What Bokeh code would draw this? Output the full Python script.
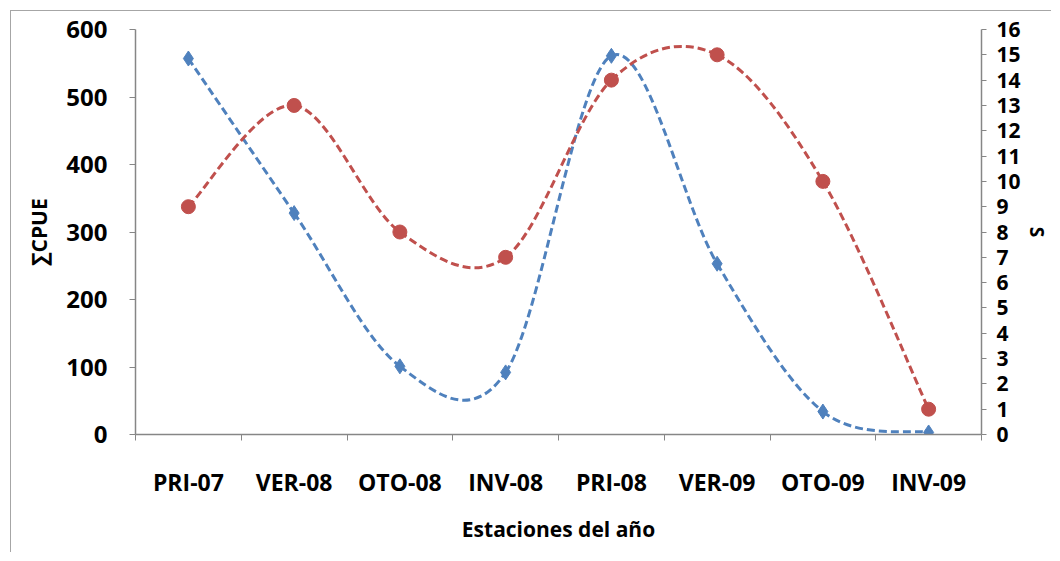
import numpy as np
from bokeh.plotting import figure
from bokeh.models import (Range1d, LinearAxis, FixedTicker, ColumnDataSource)
from bokeh.embed import file_html
from bokeh.resources import INLINE

categories = ["PRI-07", "VER-08", "OTO-08", "INV-08", "PRI-08", "VER-09", "OTO-09", "INV-09"]
cpue = [557, 328, 101, 92, 561, 253, 34, 3]
riqueza = [9, 13, 8, 7, 14, 15, 10, 1]

BLUE = "#4F81BD"
RED = "#C0504D"
FONT = "Open Sans"
AX = "#868686"

OFF = 11  # chart area starts 10px in, with a 1px border
W, H = 1052 - OFF, 553 - OFF
BL, BT = 135 - OFF, 29 - OFF
BR = W - (983 - OFF)
BB = H - (434 - OFF)

xs = np.arange(len(categories)) + 0.5

p = figure(width=W, height=H, output_backend="svg", toolbar_location=None,
           x_range=Range1d(0, len(categories)), y_range=Range1d(0, 600),
           min_border_left=BL, min_border_right=BR, min_border_top=BT,
           min_border_bottom=BB)
p.styles = {"margin-left": "10px", "margin-top": "10px",
            "border-left": "1px solid #A6A6A6", "border-top": "1px solid #A6A6A6"}
p.outline_line_color = None
p.xgrid.visible = False
p.ygrid.visible = False
p.extra_y_ranges = {"s": Range1d(0, 16)}


def smooth(x, y):
    x = np.asarray(x, float)
    y = np.asarray(y, float)
    px = np.concatenate([[x[0]], x, [x[-1]]])
    py = np.concatenate([[y[0]], y, [y[-1]]])
    n = len(x)
    d = dict(x0=[], y0=[], x1=[], y1=[], cx0=[], cy0=[], cx1=[], cy1=[])
    for i in range(n - 1):
        a, b, c, e = i, i + 1, i + 2, i + 3
        d["x0"].append(px[b]); d["y0"].append(py[b])
        d["x1"].append(px[c]); d["y1"].append(py[c])
        d["cx0"].append(px[b] + (px[c] - px[a]) / 6)
        d["cy0"].append(py[b] + (py[c] - py[a]) / 6)
        d["cx1"].append(px[c] - (px[e] - px[b]) / 6)
        d["cy1"].append(py[c] - (py[e] - py[b]) / 6)
    return ColumnDataSource(d)


p.bezier("x0", "y0", "x1", "y1", "cx0", "cy0", "cx1", "cy1", source=smooth(xs, cpue),
         line_color=BLUE, line_width=3, line_dash="8 4")
p.bezier("x0", "y0", "x1", "y1", "cx0", "cy0", "cx1", "cy1", source=smooth(xs, riqueza),
         line_color=RED, line_width=3, line_dash="8 4", y_range_name="s")
p.scatter(xs, cpue, marker="diamond", size=15, color=BLUE)
p.scatter(xs, riqueza, marker="circle", size=14, color=RED, y_range_name="s")

# x axis
xa = p.xaxis[0]
xa.ticker = FixedTicker(ticks=list(xs), minor_ticks=list(range(len(categories) + 1)))
xa.major_label_overrides = {float(v): c for v, c in zip(xs, categories)}
xa.major_tick_out = 0
xa.major_tick_in = 0
xa.minor_tick_out = 6
xa.minor_tick_in = 0
xa.minor_tick_line_color = AX
xa.axis_line_color = AX
xa.axis_line_width = 1.5
xa.major_label_standoff = 25
xa.major_label_text_font = FONT
xa.major_label_text_font_style = "bold"
xa.major_label_text_font_size = "23px"
xa.major_label_text_color = "black"
xa.axis_label = "Estaciones del año"
xa.axis_label_text_font = FONT
xa.axis_label_text_font_style = "bold"
xa.axis_label_text_font_size = "21px"
xa.axis_label_text_color = "black"
xa.axis_label_standoff = 14

ya = p.yaxis[0]
ya.ticker = FixedTicker(ticks=[0, 100, 200, 300, 400, 500, 600])
ya.minor_tick_line_color = None
ya.major_tick_out = 6
ya.major_tick_in = 0
ya.major_tick_line_color = AX
ya.axis_line_color = AX
ya.axis_line_width = 1.5
ya.major_label_standoff = 22
ya.major_label_text_font = FONT
ya.major_label_text_font_style = "bold"
ya.major_label_text_font_size = "24px"
ya.major_label_text_color = "black"
ya.axis_label = "∑CPUE"
ya.axis_label_text_font = FONT
ya.axis_label_text_font_style = "bold"
ya.axis_label_text_font_size = "21px"
ya.axis_label_text_color = "black"
ya.axis_label_standoff = 10

ra = LinearAxis(y_range_name="s", ticker=FixedTicker(ticks=list(range(0, 17))))
ra.minor_tick_line_color = None
ra.major_tick_out = 5
ra.major_tick_in = 0
ra.major_tick_line_color = AX
ra.axis_line_color = AX
ra.axis_line_width = 1.5
ra.major_label_standoff = 10
ra.major_label_text_font = FONT
ra.major_label_text_font_style = "bold"
ra.major_label_text_font_size = "21px"
ra.major_label_text_color = "black"
ra.axis_label = "S"
ra.axis_label_text_font = FONT
ra.axis_label_text_font_style = "bold"
ra.axis_label_text_font_size = "19px"
ra.axis_label_text_color = "black"
ra.axis_label_standoff = 0
p.add_layout(ra, "right")

open("out.html", "w").write(file_html(p, INLINE))
